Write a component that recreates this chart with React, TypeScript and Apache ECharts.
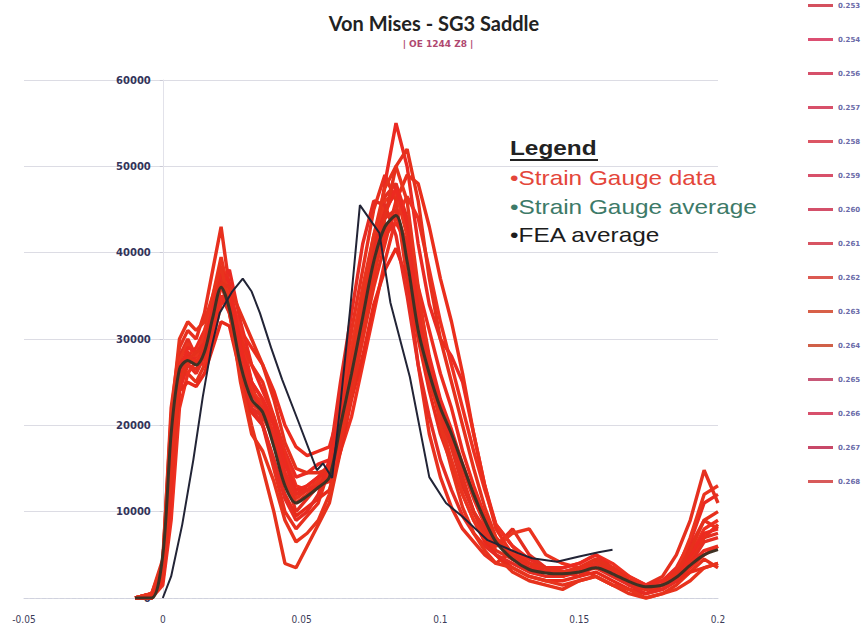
import React, { useEffect, useRef } from "react";
import * as echarts from "echarts";

// shared x positions (strain) for gauge data
const X = [-0.01, -0.004, 0, 0.003, 0.006, 0.009, 0.012, 0.015, 0.018, 0.021, 0.024, 0.028, 0.032, 0.036, 0.04, 0.044, 0.048, 0.052, 0.056, 0.06, 0.064, 0.068, 0.072, 0.076, 0.08, 0.084, 0.088, 0.092, 0.096, 0.1, 0.104, 0.108, 0.112, 0.116, 0.12, 0.126, 0.132, 0.138, 0.144, 0.15, 0.156, 0.162, 0.168, 0.174, 0.18, 0.185, 0.19, 0.195, 0.2];

const RED_NAMES = ["0.253", "0.254", "0.256", "0.257", "0.258", "0.259", "0.260", "0.261", "0.262", "0.263", "0.264", "0.265", "0.266", "0.267", "0.268"];

const RED_COLORS = ["#e8301e", "#ea2a22", "#e6321c", "#ec2c1e", "#e42e20", "#ee3020", "#e82a1a", "#eb341f", "#e62c22", "#ea2e1c", "#e5301f", "#ec2a20", "#e8331d", "#e92d21", "#e6301c"];
const LEGEND_COLORS = ["#d4505e", "#dc4f72", "#d6506a", "#d8506a", "#dc5664", "#d8506a", "#d4506a", "#d85462", "#dc5a52", "#d86048", "#d06048", "#c85878", "#d8506c", "#c84868", "#d85a5a"];

const R1 = [0, 0, 4000, 22000, 29000, 31000, 30000, 33000, 38000, 43000, 36000, 30000, 25000, 20000, 15000, 10000, 8000, 9500, 11000, 15000, 23000, 31000, 38000, 45000, 49000, 46000, 37000, 27000, 19000, 14000, 10500, 8000, 6500, 5000, 4000, 5500, 4000, 3000, 2500, 3500, 2500, 1500, 1000, 500, 1500, 3000, 6000, 9000, 8000];
const R2 = [0, 0, 2000, 10000, 24000, 27000, 28000, 30000, 33000, 37000, 38000, 32000, 27000, 24000, 21000, 17000, 14000, 14500, 15500, 16000, 19000, 25000, 32000, 40000, 48000, 55000, 50000, 41000, 34000, 30000, 28000, 25000, 19000, 13000, 8500, 6000, 4500, 3500, 3000, 3500, 4500, 3500, 2500, 1500, 2000, 3500, 6500, 11000, 12000];
const R3 = [0, 500, 3500, 18000, 27000, 26000, 25000, 27000, 31000, 35000, 34000, 26000, 20000, 15000, 10000, 4000, 3500, 6000, 8500, 11000, 17000, 25000, 33000, 40000, 45000, 47000, 43000, 34000, 27000, 22000, 18000, 14000, 10000, 7000, 5000, 3000, 2000, 1500, 1000, 2000, 2500, 1500, 500, 0, 500, 1500, 3000, 4500, 3500];
const R4 = [0, 0, 2500, 14000, 25000, 28000, 29000, 31000, 34000, 36000, 35000, 31000, 29000, 27000, 24000, 20000, 17500, 16500, 17000, 17500, 22000, 27000, 33000, 38000, 42000, 43500, 41000, 36000, 31000, 26000, 22000, 17000, 13000, 9500, 7000, 4500, 3500, 3500, 3000, 3000, 4000, 3000, 2000, 1500, 1000, 2000, 3500, 5000, 6000];
const R5 = [0, 500, 3000, 16000, 28000, 30000, 28000, 29000, 33000, 37500, 34000, 27500, 22000, 21000, 18500, 14000, 10000, 11500, 13000, 14500, 21000, 28000, 35000, 41000, 46500, 48000, 44000, 35000, 27000, 21000, 17500, 13000, 10000, 8000, 6000, 8000, 5000, 3500, 3000, 2500, 4000, 3000, 1500, 1000, 1500, 2500, 4500, 7000, 7500];
const R6 = [0, 0, 1500, 9000, 22000, 26000, 27500, 27000, 30000, 34000, 35500, 31000, 25000, 23000, 20500, 16500, 13000, 12500, 13500, 14500, 17000, 21000, 27000, 33000, 39000, 44000, 46500, 44000, 38000, 32000, 27000, 22000, 17000, 12500, 8500, 6000, 4000, 3000, 3500, 4000, 5000, 4000, 2500, 1500, 2000, 3000, 5000, 8000, 9000];
const R7 = [0, 0, 3000, 15000, 24000, 25000, 24500, 26000, 29000, 32000, 31500, 26000, 21500, 20000, 16000, 12000, 9500, 10500, 11500, 12500, 17000, 23000, 28000, 34000, 38000, 40500, 37000, 30000, 24000, 19000, 15500, 12000, 9000, 6500, 5000, 3500, 2500, 2000, 2000, 2500, 3000, 2000, 1000, 500, 1000, 2000, 3000, 3500, 4000];
const R8 = [0, 500, 4000, 20000, 27500, 29500, 28000, 30500, 35000, 39500, 35000, 28500, 24000, 22500, 19000, 14500, 11500, 12500, 13500, 15000, 22000, 29000, 36000, 42000, 46000, 47000, 42000, 33000, 26000, 20500, 16000, 12000, 9000, 7000, 6000, 7500, 8000, 5000, 4000, 3500, 4500, 3000, 1500, 1000, 1500, 3000, 7000, 12000, 13000];
const R9 = [0, 0, 3500, 17000, 27000, 28500, 27000, 29000, 32000, 35000, 33000, 27000, 22000, 20000, 16000, 11500, 9000, 10000, 12000, 16000, 25000, 33000, 41000, 46000, 45500, 42000, 35000, 27000, 21000, 16000, 12500, 9500, 7500, 6000, 5000, 4000, 3000, 2500, 2500, 3000, 3500, 2500, 1500, 500, 1000, 2000, 4000, 6500, 7000];
const R10 = [0, 0, 2500, 13000, 25500, 27500, 27500, 28500, 32000, 36000, 34500, 30000, 27000, 25000, 21000, 16000, 12000, 13000, 14000, 15000, 19000, 24000, 30000, 36000, 41000, 46000, 49000, 48000, 43000, 37000, 32000, 26000, 19000, 13000, 8000, 5000, 3500, 3000, 2500, 3500, 4000, 3000, 2000, 1000, 1500, 2500, 4500, 7000, 8500];
const R11 = [0, 500, 3000, 16000, 26000, 27000, 26500, 28000, 32000, 36500, 33000, 26500, 22500, 21500, 18000, 13500, 11000, 12000, 13000, 14000, 20000, 27000, 34000, 40000, 44000, 45000, 40000, 31000, 25000, 21000, 17500, 13500, 10000, 7500, 5500, 4500, 3500, 3000, 3000, 3000, 4000, 3500, 2000, 1500, 2500, 5000, 9000, 14800, 11000];
const R12 = [0, 0, 2000, 12000, 26000, 29000, 28500, 29500, 33500, 38000, 36500, 29000, 25000, 23000, 20000, 15500, 12500, 13000, 14000, 15500, 21000, 27500, 33500, 39500, 44500, 47500, 43500, 35000, 28000, 23000, 19500, 15500, 12000, 9000, 6500, 5000, 4000, 3500, 3500, 4000, 5000, 3500, 2000, 1500, 2000, 3000, 5000, 7500, 8000];
const R13 = [0, 500, 4500, 21000, 30000, 32000, 31000, 32000, 35000, 38500, 33500, 25000, 19000, 17000, 13500, 9000, 6500, 7500, 9000, 12000, 19000, 27000, 35000, 42000, 47500, 50000, 46000, 36000, 27000, 20000, 15000, 10500, 7500, 5500, 4000, 3500, 2500, 2000, 1500, 2000, 2500, 1500, 1000, 0, 500, 1000, 2000, 3500, 4000];
const R14 = [0, 0, 3000, 15500, 26500, 27000, 26000, 28000, 31500, 35000, 33500, 27500, 23500, 22000, 18500, 14500, 12000, 12500, 13000, 13500, 18000, 24000, 31000, 37500, 42500, 44500, 41000, 33000, 26500, 22000, 18500, 15000, 11500, 8500, 6500, 4500, 3500, 3000, 3000, 3500, 3500, 3000, 2000, 1500, 1500, 2500, 4000, 5500, 6000];
const R15 = [0, 0, 2500, 13500, 25000, 27500, 28500, 29000, 32500, 36500, 36000, 33000, 30000, 27000, 23000, 18000, 15000, 14500, 14500, 15000, 18500, 23500, 30000, 37000, 44000, 50000, 52000, 46000, 37000, 30000, 25000, 20000, 15000, 10500, 7000, 5000, 4000, 3500, 3000, 3500, 4500, 3500, 2000, 1000, 1500, 3000, 5500, 9000, 10000];
const RED_VALUES = [R1, R2, R3, R4, R5, R6, R7, R8, R9, R10, R11, R12, R13, R14, R15];

const AVG_VALUES = [0, 0, 5000, 19000, 26500, 27500, 27000, 28500, 32500, 36000, 33500, 27000, 23000, 21500, 17500, 13000, 11000, 11800, 12800, 14000, 20000, 26000, 32500, 39000, 43000, 44300, 39000, 31000, 26000, 22000, 19000, 15500, 12000, 9000, 6500, 4500, 3300, 2900, 2800, 3000, 3500, 2800, 1900, 1300, 1500, 2400, 3800, 5000, 5600];

const FEA_X = [0, 0.003, 0.007, 0.011, 0.0144, 0.0175, 0.0205, 0.025, 0.0288, 0.032, 0.035, 0.039, 0.043, 0.049, 0.0555, 0.0577, 0.061, 0.064, 0.0675, 0.071, 0.078, 0.082, 0.089, 0.096, 0.102, 0.108, 0.117, 0.128, 0.133, 0.142, 0.15, 0.157, 0.162];
const FEA_VALUES = [0, 2500, 8500, 16000, 23300, 29000, 33000, 35500, 37000, 35500, 33000, 29000, 25300, 20300, 14800, 15600, 13900, 22500, 33500, 45500, 42300, 34200, 25600, 14000, 11000, 9400, 6700, 5200, 4600, 4200, 4800, 5300, 5600];

const TITLE = "Von Mises - SG3 Saddle";
const SUBTITLE = "| OE 1244 Z8 |";
const LEGEND_BOX = [
  { text: "•Strain Gauge data", color: "#e4463a" },
  { text: "•Strain Gauge average", color: "#3d7a68" },
  { text: "•FEA average", color: "#1c1c1c" },
];

const GRID_LEFT = 24;
const GRID_RIGHT = 144;
const CHART_W = 862;
const X_MIN = -0.05;
const X_MAX = 0.2;

export default function App() {
  const ref = useRef<HTMLDivElement>(null);
  useEffect(() => {
    const chart = echarts.init(ref.current!, null, { renderer: "svg" });
    const plotW = CHART_W - GRID_LEFT - GRID_RIGHT;
    const zeroOffset = (plotW * (0 - X_MIN)) / (X_MAX - X_MIN);
    const redSeries = RED_VALUES.map((vals, k) => ({
      name: RED_NAMES[k],
      type: "line",
      data: X.map((x, i) => [x, vals[i]]),
      showSymbol: false,
      symbol: "none",
      color: LEGEND_COLORS[k],
      lineStyle: { width: 3.4, color: RED_COLORS[k] },
      z: 2,
      silent: true,
    }));
    chart.setOption({
      animation: false,
      backgroundColor: "#ffffff",
      grid: { left: GRID_LEFT, right: GRID_RIGHT, top: 80, bottom: 35, containLabel: false, outerBoundsMode: "none" },
      xAxis: {
        type: "value",
        min: X_MIN,
        max: X_MAX,
        interval: 0.05,
        axisLine: { show: true, onZero: true, lineStyle: { color: "#d0d2de", width: 1, type: "dashed" } },
        axisTick: { show: false },
        splitLine: { show: false },
        axisLabel: {
          color: "#3c3c58",
          fontSize: 10,
          fontFamily: "'Liberation Sans Narrow', 'DejaVu Sans Condensed', sans-serif",
          margin: 16,
          formatter: (v: number) => String(parseFloat(v.toFixed(2))),
        },
      },
      yAxis: {
        type: "value",
        min: 0,
        max: 60000,
        interval: 10000,
        position: "left",
        offset: -zeroOffset,
        axisLine: { show: true, onZero: false, lineStyle: { color: "#e2e2ea", width: 1 } },
        axisTick: { show: true, length: 3, lineStyle: { color: "#c8c8d4" } },
        splitLine: { show: true, lineStyle: { color: "#dcdce4", width: 1 } },
        axisLabel: {
          color: "#34345a",
          fontSize: 10,
          fontWeight: "bold",
          fontFamily: "'DejaVu Sans', sans-serif",
          margin: 12,
          formatter: (v: number) => String(v),
        },
      },
      legend: {
        orient: "vertical",
        left: 808,
        top: 2,
        data: RED_NAMES,
        icon: "rect",
        itemWidth: 25,
        itemHeight: 3,
        itemGap: 27,
        selectedMode: false,
        padding: 0,
        textStyle: { fontSize: 7, color: "#6a6aa8", fontWeight: "bold", fontFamily: "'DejaVu Sans', sans-serif" },
      },
      graphic: [
        {
          type: "text",
          x: 434,
          y: 23,
          style: { text: TITLE, fill: "#222222", font: "bold 20px Lato, 'Open Sans', sans-serif", textAlign: "center", textVerticalAlign: "middle" },
        },
        {
          type: "text",
          x: 438,
          y: 44,
          style: { text: SUBTITLE, fill: "#b04870", font: "bold 9px 'DejaVu Sans', sans-serif", textAlign: "center", textVerticalAlign: "middle" },
        },
        {
          type: "text",
          x: 510,
          y: 148,
          scaleX: 1.16,
          style: { text: "Legend", fill: "#222222", font: "bold 21px 'Liberation Sans', Arial, sans-serif", textVerticalAlign: "middle" },
        },
        {
          type: "line",
          shape: { x1: 510, y1: 160, x2: 598, y2: 160 },
          style: { stroke: "#222222", lineWidth: 2 },
        },
        ...LEGEND_BOX.map((it, i) => ({
          type: "text",
          x: 510,
          y: 178 + i * 28.5,
          scaleX: 1.16,
          style: { text: it.text, fill: it.color, font: "21px 'Liberation Sans', Arial, sans-serif", textVerticalAlign: "middle" },
        })),
      ],
      series: [
        ...redSeries,
        {
          name: "Strain Gauge average",
          type: "line",
          data: X.map((x, i) => [x, AVG_VALUES[i]]),
          showSymbol: false,
          symbol: "none",
          smooth: 0.3,
          lineStyle: { width: 3, color: "#3e3224" },
          z: 3,
          silent: true,
        },
        {
          name: "FEA average",
          type: "line",
          data: FEA_X.map((x, i) => [x, FEA_VALUES[i]]),
          showSymbol: false,
          symbol: "none",
          lineStyle: { width: 2, color: "#222436" },
          z: 4,
          silent: true,
        },
      ],
    });
    return () => chart.dispose();
  }, []);
  return <div ref={ref} style={{ position: "fixed", left: 0, top: 0, width: 862, height: 633 }} />;
}
